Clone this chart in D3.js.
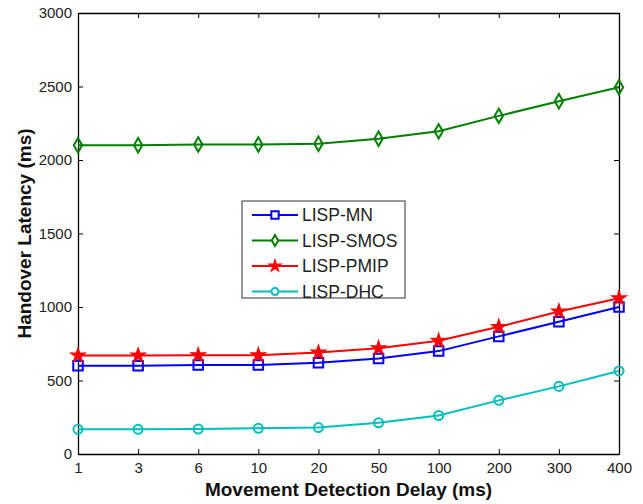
<!DOCTYPE html>
<html>
<head>
<meta charset="utf-8">
<script src="https://cdn.jsdelivr.net/npm/d3@7"></script>
<style>
  body { margin: 0; background: #fff; }
  text { font-family: "Liberation Sans", Arial, sans-serif; }
</style>
</head>
<body>
<div class="canva"></div>
<script>
// data
const delays = ['1', '3', '6', '10', '20', '50', '100', '200', '300', '400'];
const lispMN   = [600, 600, 605, 605, 620, 650, 700, 800, 900, 1000];
const lispSMOS = [2100, 2100, 2105, 2105, 2110, 2145, 2195, 2300, 2400, 2495];
const lispPMIP = [670, 670, 672, 672, 690, 720, 770, 865, 970, 1060];
const lispDHC  = [168, 168, 170, 175, 180, 212, 262, 365, 460, 565];
const yTicks = [0, 500, 1000, 1500, 2000, 2500, 3000];

const series = [
  {name: 'LISP-MN',   values: lispMN,   color: '#0000ff', sym: d3.symbolSquare,  size: 90, fill: 'none'},
  {name: 'LISP-SMOS', values: lispSMOS, color: '#008000', sym: d3.symbolDiamond, size: 60, fill: 'none'},
  {name: 'LISP-PMIP', values: lispPMIP, color: '#ff0000', sym: d3.symbolStar,    size: 45, fill: '#ff0000'},
  {name: 'LISP-DHC',  values: lispDHC,  color: '#00bfbf', sym: d3.symbolCircle,  size: 64, fill: 'none'}
];

const W = 643, H = 504;
const margin = {top: 13, right: 24, bottom: 50, left: 78};

const svg = d3.select('.canva').append('svg')
    .attr('width', W)
    .attr('height', H);

const x = d3.scalePoint()
    .domain(delays)
    .range([margin.left, W - margin.right]);

const y = d3.scaleLinear()
    .domain([0, 3000])
    .range([H - margin.bottom, margin.top]);

// axes (ticks pointing inward, like matlab)
const xAxis = svg.append('g')
    .attr('transform', `translate(0, ${H - margin.bottom})`)
    .call(d3.axisBottom(x).tickSizeInner(-5).tickSizeOuter(0).tickPadding(8));

const xTop = svg.append('g')
    .attr('transform', `translate(0, ${margin.top})`)
    .call(d3.axisTop(x).tickSizeInner(-5).tickSizeOuter(0).tickFormat(''));

const yAxis = svg.append('g')
    .attr('transform', `translate(${margin.left}, 0)`)
    .call(d3.axisLeft(y).tickValues(yTicks).tickFormat(d3.format('d'))
      .tickSizeInner(-5).tickSizeOuter(0).tickPadding(6));

const yRight = svg.append('g')
    .attr('transform', `translate(${W - margin.right}, 0)`)
    .call(d3.axisRight(y).tickValues(yTicks).tickSizeInner(-5).tickSizeOuter(0).tickFormat(''));

[xAxis, xTop, yAxis, yRight].forEach(g => {
  g.selectAll('path').attr('stroke', '#000').attr('stroke-width', 1.3);
  g.selectAll('line').attr('stroke', '#000');
  g.selectAll('text')
    .attr('fill', '#222')
    .style('font-size', '15px')
    .style('font-family', '"Liberation Sans", Arial, sans-serif');
});

// lines + markers
const line = d3.line()
    .x((d, i) => x(delays[i]))
    .y(d => y(d));

series.forEach(s => {
  svg.append('path')
    .datum(s.values)
    .attr('fill', 'none')
    .attr('stroke', s.color)
    .attr('stroke-width', 2)
    .attr('d', line);

  svg.selectAll(null)
    .data(s.values)
    .enter().append('path')
    .attr('d', d3.symbol().type(s.sym).size(s.size))
    .attr('transform', (d, i) => `translate(${x(delays[i])}, ${y(d)})`)
    .attr('fill', s.fill)
    .attr('stroke', s.color)
    .attr('stroke-width', 2);
});

// axis titles
svg.append('text')
    .attr('x', (margin.left + W - margin.right) / 2)
    .attr('y', 496)
    .attr('text-anchor', 'middle')
    .style('font-size', '19px')
    .style('font-weight', 'bold')
    .attr('fill', '#111')
    .text('Movement Detection Delay (ms)');

svg.append('text')
    .attr('transform', `translate(31, ${(margin.top + H - margin.bottom) / 2}) rotate(-90)`)
    .attr('text-anchor', 'middle')
    .style('font-size', '19px')
    .style('font-weight', 'bold')
    .attr('fill', '#111')
    .text('Handover Latency (ms)');

// legend
const legend = svg.append('g')
    .attr('transform', 'translate(242, 201)');

legend.append('rect')
    .attr('width', 163)
    .attr('height', 97)
    .attr('fill', '#fff')
    .attr('stroke', '#333')
    .attr('stroke-width', 1);

series.forEach((s, i) => {
  const row = legend.append('g')
      .attr('transform', `translate(0, ${14 + i * 25.5})`);
  row.append('line')
    .attr('x1', 10).attr('x2', 56)
    .attr('stroke', s.color)
    .attr('stroke-width', 2);
  row.append('path')
    .attr('d', d3.symbol().type(s.sym).size(s.size * 0.6))
    .attr('transform', 'translate(33, 0)')
    .attr('fill', s.fill === 'none' ? '#fff' : s.fill)
    .attr('stroke', s.color)
    .attr('stroke-width', 2);
  row.append('text')
    .attr('x', 60)
    .attr('dy', '0.35em')
    .style('font-size', '17.5px')
    .attr('fill', '#222')
    .text(s.name);
});
</script>
</body>
</html>
